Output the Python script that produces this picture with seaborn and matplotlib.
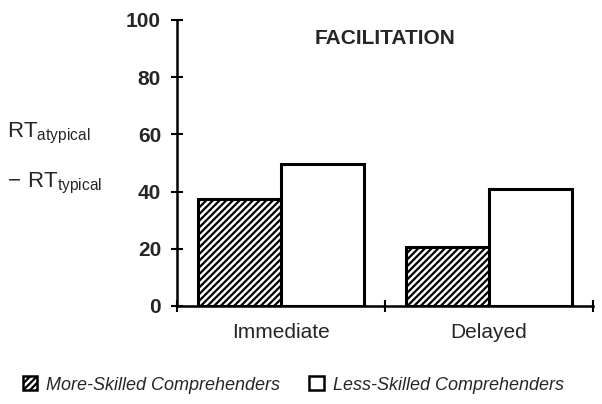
import pandas as pd
import matplotlib.pyplot as plt
from matplotlib.patches import Patch
import seaborn as sns

# values (RT atypical - RT typical, ms)
conditions = ["Immediate", "Delayed"]
groups = ["More-Skilled Comprehenders", "Less-Skilled Comprehenders"]
more_skilled = [37.5, 20.5]
less_skilled = [49.5, 41]
y_ticks = [0, 20, 40, 60, 80, 100]

df = pd.DataFrame({
    "condition": conditions * 2,
    "group": [groups[0]] * 2 + [groups[1]] * 2,
    "facilitation": more_skilled + less_skilled,
})

sns.set_style("ticks")
plt.rcParams["font.family"] = ["Liberation Sans", "DejaVu Sans"]
plt.rcParams["mathtext.fontset"] = "custom"
plt.rcParams["mathtext.rm"] = "Liberation Sans"
plt.rcParams["hatch.linewidth"] = 1.6
plt.rcParams["hatch.color"] = "black"

fig = plt.figure(figsize=(6.02, 4.04), dpi=100)
ax = fig.add_axes([0.294, 0.2426, 0.691, 0.708])

sns.barplot(data=df, x="condition", y="facilitation", hue="group",
            hue_order=groups, order=conditions, palette=["white", "white"],
            width=0.8, edgecolor="black", linewidth=2.2, saturation=1,
            legend=False, ax=ax)
for bar in ax.containers[0]:
    bar.set_hatch("/////")

ax.set_xlim(-0.5, 1.5)
ax.set_ylim(0, 100)
ax.set_yticks(y_ticks)
ax.set_xlabel("")
ax.set_ylabel("")

# boundary ticks on the x axis, labels centred under each category
ax.set_xticks([-0.5, 0.5, 1.5])
ax.set_xticklabels([])
ax.set_xticks([0, 1], minor=True)
ax.set_xticklabels(conditions, minor=True, fontsize=15)
ax.tick_params(axis="x", which="minor", length=0, pad=12)
ax.tick_params(axis="both", which="major", direction="inout", length=9, width=1.5,
               color="black")
ax.tick_params(axis="y", labelsize=15, pad=7)
for lab in ax.get_yticklabels():
    lab.set_fontweight("bold")

sns.despine(ax=ax)
for side in ["left", "bottom"]:
    ax.spines[side].set_linewidth(1.8)
    ax.spines[side].set_color("black")

ax.text(0.5, 0.935, "FACILITATION", transform=ax.transAxes, fontsize=15,
        ha="center", va="center", fontweight="bold")

fig.text(0.012, 0.66, r"$\mathrm{RT}_{\mathrm{atypical}}$", fontsize=16, va="baseline")
fig.text(0.012, 0.535, r"$-\ \mathrm{RT}_{\mathrm{typical}}$", fontsize=16, va="baseline")

handles = [Patch(facecolor="white", edgecolor="black", hatch="/////", linewidth=1.8),
           Patch(facecolor="white", edgecolor="black", linewidth=1.8)]
fig.legend(handles, groups, loc="center", bbox_to_anchor=(0.487, 0.047), ncol=2,
           frameon=False, handlelength=0.8, handleheight=0.8, handletextpad=0.5,
           columnspacing=1.6, prop={"size": 13, "style": "italic"})

fig.savefig("out.png", dpi=100)
